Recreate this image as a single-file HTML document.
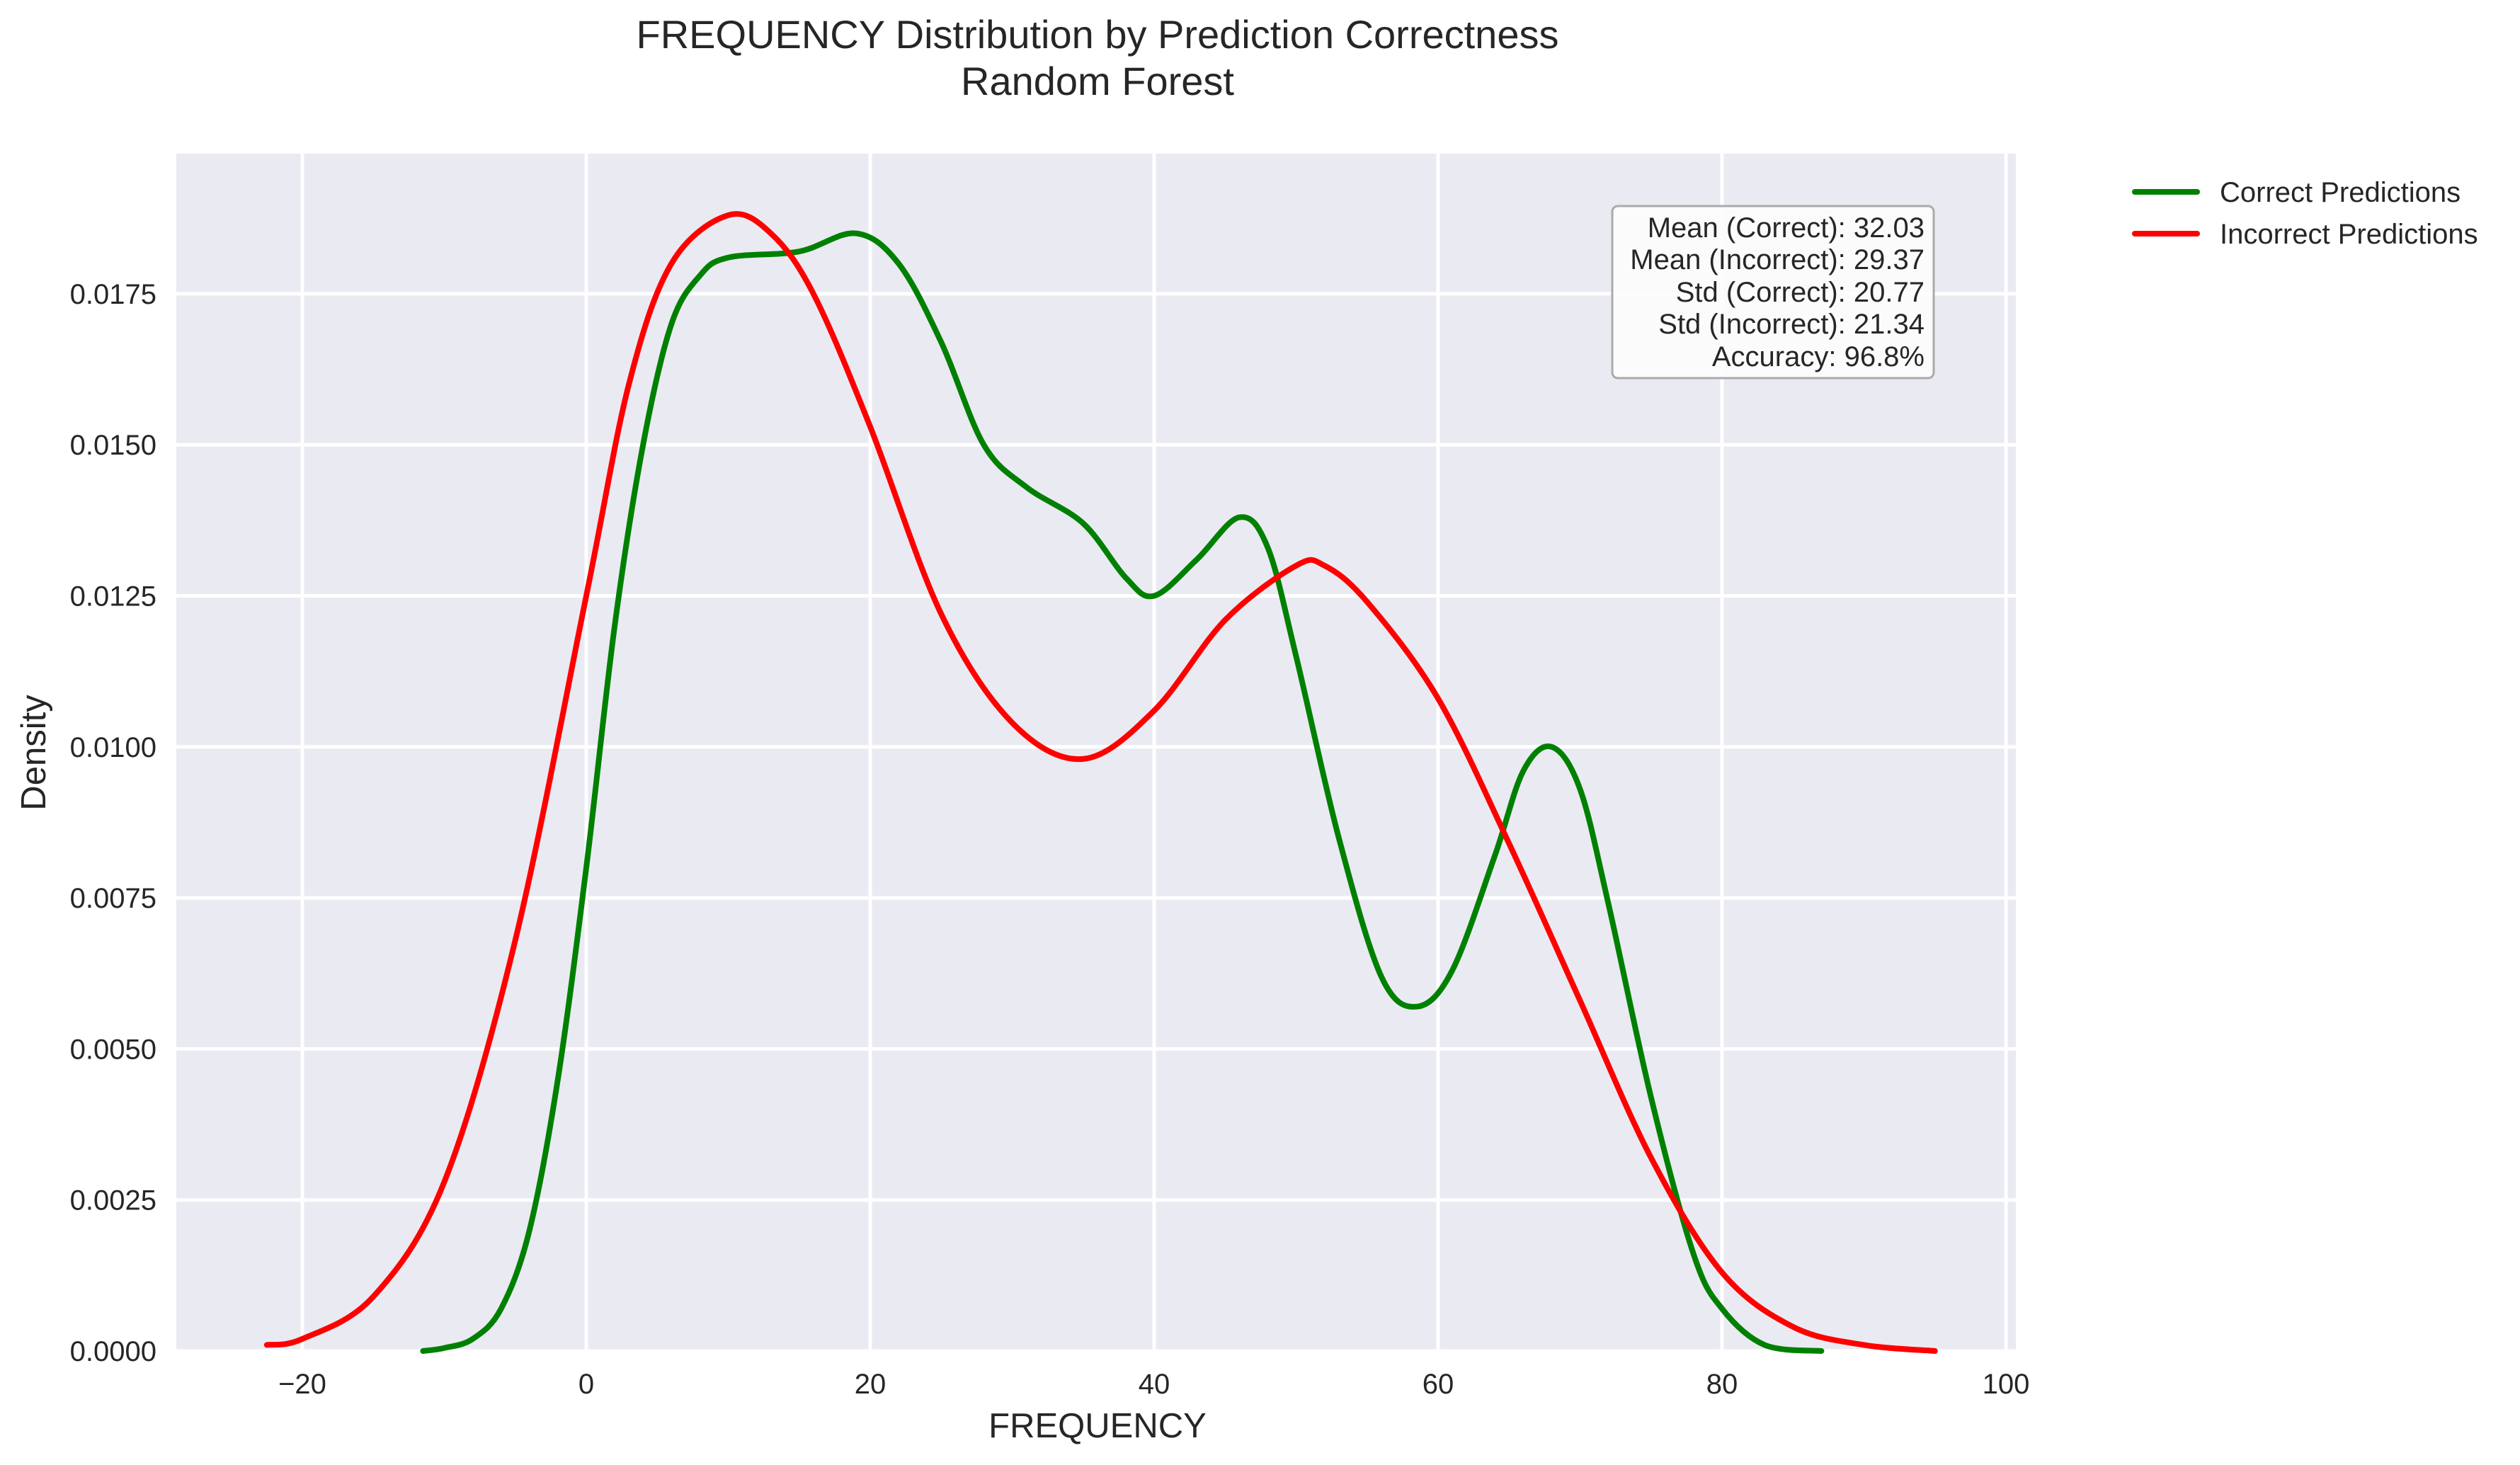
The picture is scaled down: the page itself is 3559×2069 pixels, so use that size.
<!DOCTYPE html>
<html><head><meta charset="utf-8"><style>
html,body{margin:0;padding:0;background:#fff;}
svg{display:block;font-family:"Liberation Sans",sans-serif;}
</style></head><body>
<svg id="chart" width="3559" height="2069" viewBox="0 0 3559 2069">
<text x="1550" y="68" font-size="56" text-anchor="middle" fill="#262626">FREQUENCY Distribution by Prediction Correctness</text>
<text x="1550" y="134" font-size="56" text-anchor="middle" fill="#262626">Random Forest</text>
<rect x="249" y="217" width="2598" height="1691" fill="#EAEAF2"/>
<g id="grid"></g>
<g id="ticks"></g>
<g id="series"></g>
<text x="1550" y="2030" font-size="49" text-anchor="middle" fill="#262626">FREQUENCY</text>
<text x="64" y="1063" font-size="49" text-anchor="middle" fill="#262626" transform="rotate(-90 64 1063)">Density</text>
<g>
<rect x="2277" y="291" width="454" height="243" rx="8" fill="#fdfdfd" fill-opacity="0.9" stroke="#aaa" stroke-width="3"/>
<g font-size="40" fill="#262626" text-anchor="end">
<text x="2718" y="335">Mean (Correct): 32.03</text>
<text x="2718" y="380">Mean (Incorrect): 29.37</text>
<text x="2718" y="426">Std (Correct): 20.77</text>
<text x="2718" y="471">Std (Incorrect): 21.34</text>
<text x="2718" y="517">Accuracy: 96.8%</text>
</g></g>
<g>
<g>
<line x1="3015" y1="271" x2="3103" y2="271" stroke="#008000" stroke-width="8" stroke-linecap="round"/>
<text x="3135" y="285" font-size="40" fill="#262626">Correct Predictions</text></g>
<g>
<line x1="3015" y1="330" x2="3103" y2="330" stroke="#ff0000" stroke-width="8" stroke-linecap="round"/>
<text x="3135" y="344" font-size="40" fill="#262626">Incorrect Predictions</text></g>
</g>
</svg>
<script>
const xTicks=[-20,0,20,40,60,80,100];
const yTicks=[0,0.0025,0.005,0.0075,0.01,0.0125,0.015,0.0175];
const correctX=[-11.5,-10,-8,-6,-4,-2,0,2,4,6,8,10,15,19,22,25,28,31,35,38,40,43,46,48,50,53,56,58.5,61,64,66,68,70,72,75,78,80,83,87];
const correctY=[0,0.00005,0.0002,0.0007,0.0020,0.0045,0.0080,0.0120,0.0150,0.0170,0.0178,0.0181,0.0182,0.0185,0.0180,0.0167,0.0150,0.0143,0.0137,0.0128,0.0125,0.0131,0.0138,0.0133,0.0115,0.0085,0.0062,0.0057,0.0063,0.0082,0.0096,0.0100,0.0093,0.0074,0.0042,0.0016,0.0007,0.0001,0];
const incorrectX=[-22.5,-20,-15,-10,-5,0,3,6,10,13,16,20,25,30,35,40,45,50,52,55,60,65,70,75,80,85,90,95];
const incorrectY=[0.0001,0.0002,0.0009,0.0028,0.0068,0.0125,0.0160,0.0180,0.0188,0.0185,0.0175,0.0153,0.0122,0.0104,0.0098,0.0106,0.0121,0.0130,0.0130,0.0124,0.0108,0.0084,0.0058,0.0032,0.0013,0.0004,0.0001,0];
const NS='http://www.w3.org/2000/svg';
function xs(v){return 828+v*20.05;}
function ys(v){return 1908-v/0.0025*213.3;}
const grid=document.getElementById('grid'),ticks=document.getElementById('ticks'),series=document.getElementById('series');
xTicks.forEach(t=>{
 const l=document.createElementNS(NS,'line');
 l.setAttribute('x1',xs(t));l.setAttribute('x2',xs(t));l.setAttribute('y1',217);l.setAttribute('y2',1908);
 l.setAttribute('stroke','#fff');l.setAttribute('stroke-width','5');
 
 
 grid.appendChild(l);
 const tx=document.createElementNS(NS,'text');
 tx.setAttribute('x',xs(t));tx.setAttribute('y',1968);tx.setAttribute('font-size','40');tx.setAttribute('text-anchor','middle');tx.setAttribute('fill','#262626');
 tx.textContent=t<0?'\u2212'+(-t):String(t);
 
 
 ticks.appendChild(tx);
});
yTicks.forEach(t=>{
 const l=document.createElementNS(NS,'line');
 l.setAttribute('x1',249);l.setAttribute('x2',2847);l.setAttribute('y1',ys(t));l.setAttribute('y2',ys(t));
 l.setAttribute('stroke','#fff');l.setAttribute('stroke-width','5');
 
 
 grid.appendChild(l);
 const tx=document.createElementNS(NS,'text');
 tx.setAttribute('x',221);tx.setAttribute('y',ys(t)+14);tx.setAttribute('font-size','40');tx.setAttribute('text-anchor','end');tx.setAttribute('fill','#262626');
 tx.textContent=t.toFixed(4);
 
 
 ticks.appendChild(tx);
});
function smoothPath(X,Y){
 const p=X.map((x,i)=>[xs(x),ys(Y[i])]);
 let d='M'+p[0][0]+','+p[0][1];
 for(let i=0;i<p.length-1;i++){
  const p0=p[i-1]||p[i],p1=p[i],p2=p[i+1],p3=p[i+2]||p2;
  const c1=[p1[0]+(p2[0]-p0[0])/6,p1[1]+(p2[1]-p0[1])/6];
  const c2=[p2[0]-(p3[0]-p1[0])/6,p2[1]-(p3[1]-p1[1])/6];
  d+=' C'+c1[0]+','+c1[1]+' '+c2[0]+','+c2[1]+' '+p2[0]+','+p2[1];
 }
 return d;
}
const g=document.createElementNS(NS,'path');
g.setAttribute('d',smoothPath(correctX,correctY));
g.setAttribute('fill','none');g.setAttribute('stroke','#008000');g.setAttribute('stroke-width','8');g.setAttribute('stroke-linecap','round');


series.appendChild(g);
const r=document.createElementNS(NS,'path');
r.setAttribute('d',smoothPath(incorrectX,incorrectY));
r.setAttribute('fill','none');r.setAttribute('stroke','#ff0000');r.setAttribute('stroke-width','8');r.setAttribute('stroke-linecap','round');


series.appendChild(r);
</script>
</body></html>
